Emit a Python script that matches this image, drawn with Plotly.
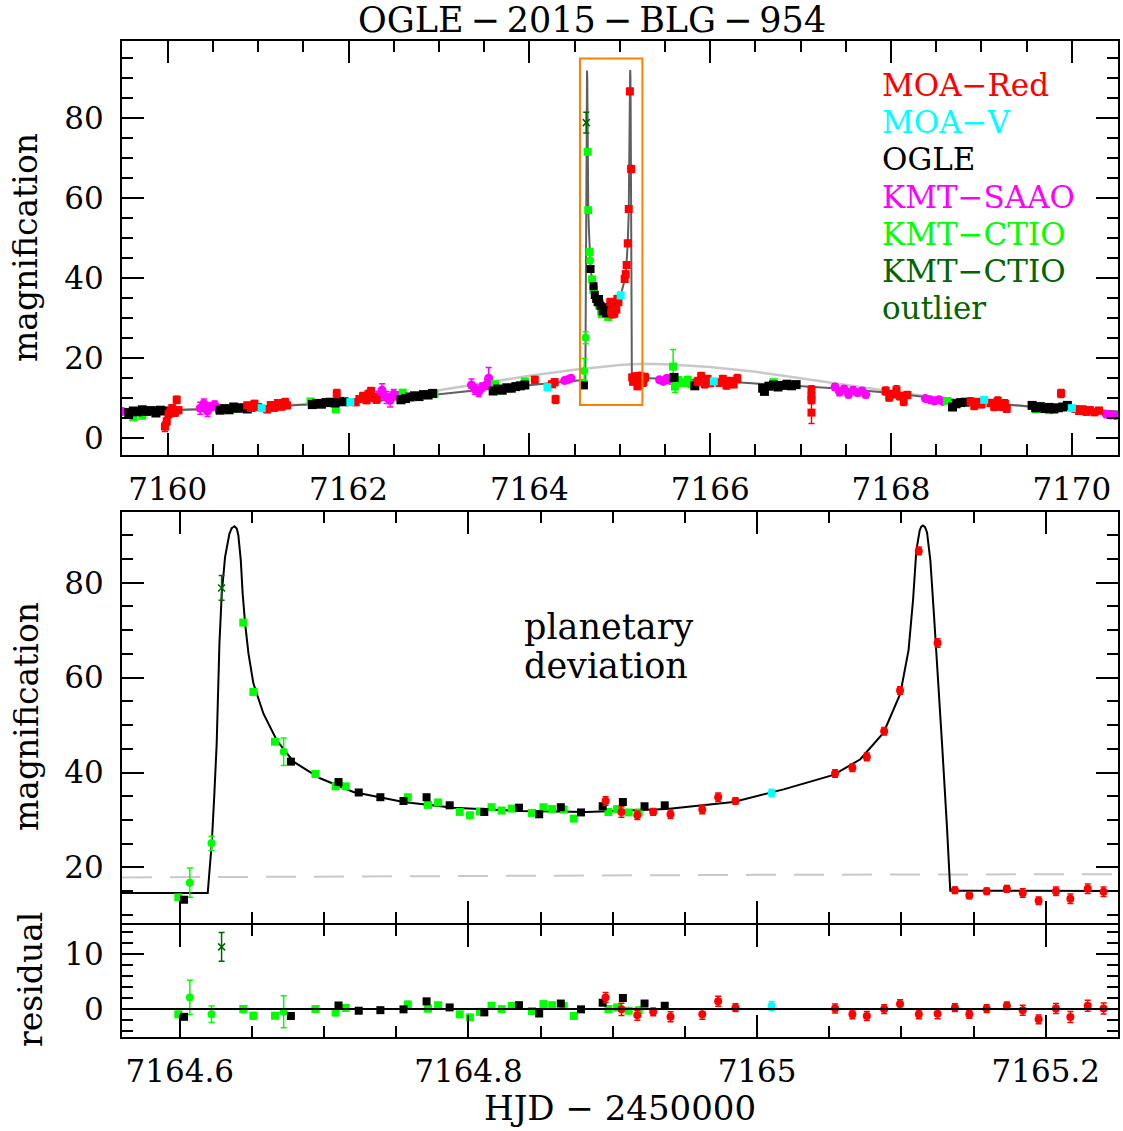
import plotly.graph_objects as go

FONT = "DejaVu Serif"
W, H = 1123, 1131

# ---------------- axis ranges ----------------
top_x_range = [7159.495, 7170.51]
top_y_range = [-4.2, 99.3]
zoom_x_range = [7164.56, 7165.25]
zoom_y_range = [8.3, 94.9]
res_y_range = [-5.05, 15.2]

# ---------------- colours ----------------
C_MOA_RED = "#FF0000"
C_MOA_V = "#00FFFF"
C_OGLE = "#000000"
C_SAAO = "#FF00FF"
C_CTIO = "#00FF00"
C_OUT = "#006400"

# ---------------- zoom-window data (bottom panels) ----------------
ctio_sq_t = [7164.599, 7164.644, 7164.651, 7164.666, 7164.694, 7164.708, 7164.715, 7164.758,
             7164.772, 7164.779, 7164.794, 7164.801, 7164.808, 7164.816, 7164.823, 7164.830,
             7164.844, 7164.852, 7164.858, 7164.866, 7164.873, 7164.897, 7164.903, 7164.911,
             7164.918]
ctio_sq_A = [13.7, 71.6, 57.0, 46.5, 39.7, 37.1, 37.1, 34.8,
             33.2, 33.7, 31.7, 31.0, 31.8, 32.7, 32.0, 32.4,
             31.5, 32.7, 32.3, 32.2, 30.3, 31.7, 32.3, 31.6,
             31.6]
ctio_sq_err = [0.5, 0.6, 0.6, 0.5, 0.4, 0.6, 0.4, 0.6,
               0.6, 0.4, 0.4, 0.5, 0.5, 0.4, 0.4, 0.4,
               0.5, 0.5, 0.5, 0.4, 0.6, 0.5, 0.4, 0.4,
               0.4]
ctio_sq_res = [-0.95, 0.0, -1.2, -1.2, 0.0, -0.6, 0.2, 0.8,
               0.1, 0.7, -0.95, -1.5, -0.5, 0.6, 0.0, 0.55,
               -0.35, 0.9, 0.7, 0.55, -1.25, 0.0, 0.3, -0.3,
               -0.2]

ctio_ci_t = [7164.607, 7164.622, 7164.672]
ctio_ci_A = [16.8, 25.1, 44.4]
ctio_ci_err = [3.1, 1.5, 2.9]
ctio_ci_res = [2.1, -0.95, -0.5]

outlier_t = [7164.629]
outlier_A = [78.9]
outlier_err = [2.6]
outlier_res = [11.25]

ogle_z_t = [7164.603, 7164.677, 7164.710, 7164.724, 7164.739, 7164.755, 7164.771, 7164.787,
            7164.811, 7164.835, 7164.849, 7164.864, 7164.878, 7164.893, 7164.907, 7164.922,
            7164.936]
ogle_z_A = [13.2, 42.3, 38.0, 35.8, 34.8, 34.0, 34.8, 33.1,
            31.7, 32.6, 31.2, 32.7, 31.6, 32.9, 33.8, 32.9,
            33.1]
ogle_z_err = [0.3, 0.5, 0.5, 0.4, 0.4, 0.4, 0.4, 0.4,
              0.4, 0.4, 0.4, 0.4, 0.4, 0.4, 0.4, 0.4,
              0.4]
ogle_z_res = [-1.4, -1.25, 0.65, -0.3, -0.2, -0.05, 1.4, 0.3,
              -0.6, 0.7, -0.8, 1.0, -0.05, 1.15, 2.0, 1.0,
              0.6]

moa_z_t = [7164.895, 7164.906, 7164.917, 7164.928, 7164.940, 7164.962, 7164.973, 7164.985,
           7165.054, 7165.066, 7165.076, 7165.088, 7165.099, 7165.112, 7165.125, 7165.137,
           7165.147, 7165.159, 7165.173, 7165.184, 7165.195, 7165.207, 7165.217, 7165.229,
           7165.240]
moa_z_A = [34.0, 31.7, 31.0, 31.7, 31.2, 32.2, 34.8, 34.0,
           39.8, 41.0, 43.3, 48.7, 57.3, 86.7, 67.3, 15.2,
           14.1, 15.0, 15.5, 14.6, 13.0, 15.0, 13.4, 15.5,
           14.9]
moa_z_err = [0.9, 1.1, 0.9, 0.7, 0.9, 0.9, 0.9, 0.7,
             0.8, 0.8, 0.8, 0.8, 0.8, 0.8, 0.9, 0.7,
             0.7, 0.7, 0.7, 0.9, 0.8, 0.9, 1.0, 1.0,
             1.0]
moa_z_res = [2.1, -0.05, -1.1, -0.5, -1.4, -0.95, 1.4, 0.25,
             0.1, -0.95, -1.25, 0.0, 0.9, -0.95, -0.85, 0.25,
             -0.95, 0.1, 0.6, -0.2, -1.85, 0.1, -1.45, 0.6,
             0.1]

moav_z_t = [7165.010]
moav_z_A = [35.7]
moav_z_err = [0.8]
moav_z_res = [0.55]

# ---------------- wide data (top panel only) ----------------
moa_w_t = [7159.97, 7159.99, 7160.01, 7160.03, 7160.05, 7160.08, 7160.10, 7160.12,
           7160.88, 7160.92, 7160.96, 7161.00,
           7161.10, 7161.14, 7161.18, 7161.22, 7161.26, 7161.30, 7161.32,
           7161.87,
           7162.08, 7162.12, 7162.16, 7162.20, 7162.22, 7162.25, 7162.28, 7162.31,
           7164.06, 7164.25, 7164.28, 7164.29,
           7165.26, 7165.28,
           7165.86, 7165.90, 7165.94, 7165.97, 7166.00,
           7166.10, 7166.14, 7166.18, 7166.22, 7166.26, 7166.30,
           7167.12, 7167.12, 7167.12, 7167.12,
           7167.94, 7167.98, 7168.02, 7168.06, 7168.10, 7168.14, 7168.18,
           7168.88, 7168.92, 7168.96, 7169.00,
           7169.10, 7169.14, 7169.18, 7169.22, 7169.26, 7169.28,
           7169.88,
           7170.04, 7170.08, 7170.12, 7170.16, 7170.20, 7170.25, 7170.30]
moa_w_A = [2.9, 4.2, 6.0, 6.7, 7.5, 6.4, 9.6, 7.0,
           8.2, 7.6, 8.6, 7.8,
           7.2, 8.3, 7.6, 8.8, 7.9, 9.0, 8.2,
           11.2,
           9.0, 9.8, 10.5, 9.5, 11.0, 11.8, 10.2, 9.6,
           14.6, 13.5, 14.0, 9.7,
           14.0, 15.2,
           14.2, 15.5, 13.5, 14.8, 13.8,
           13.9, 14.8, 13.2, 14.3, 13.5, 14.9,
           12.1, 10.4, 9.6, 6.4,
           11.8, 10.2, 11.0, 12.0, 10.5, 9.2, 10.8,
           9.2, 8.1, 9.0, 8.5,
           8.8, 7.9, 9.3, 8.0, 8.6, 7.4,
           11.2,
           7.3, 6.8, 7.2, 6.6, 7.0, 6.5, 6.9]
moa_w_err = [1.2, 1.0, 0.9, 0.8, 0.8, 0.9, 0.9, 0.8,
             0.8, 0.8, 0.8, 0.8,
             0.8, 0.8, 0.8, 0.8, 0.8, 0.9, 0.8,
             1.0,
             0.8, 0.8, 0.9, 0.8, 1.0, 0.9, 0.8, 0.8,
             0.8, 0.8, 0.8, 1.0,
             1.0, 1.0,
             1.0, 0.9, 0.9, 0.9, 0.9,
             0.9, 0.9, 0.9, 0.9, 0.9, 1.0,
             1.0, 1.0, 1.0, 2.7,
             1.0, 0.9, 0.9, 1.1, 0.9, 1.0, 0.9,
             0.9, 0.9, 0.9, 0.9,
             0.9, 1.0, 1.0, 1.0, 1.0, 0.9,
             1.0,
             0.8, 0.8, 0.8, 0.8, 0.8, 0.8, 0.8]

moav_w_t = [7161.04, 7162.02, 7164.20, 7166.04, 7169.03, 7170.00]
moav_w_A = [7.5, 9.0, 12.7, 14.2, 9.6, 7.5]
moav_w_err = [0.7, 0.7, 0.8, 0.7, 0.7, 0.7]

ogle_w_t = [7159.57, 7159.62, 7159.67, 7159.72, 7159.77, 7159.82, 7159.87, 7159.92, 7159.96,
            7160.58, 7160.63, 7160.68, 7160.73, 7160.78, 7160.83, 7160.88, 7160.93,
            7161.60, 7161.65, 7161.70, 7161.75, 7161.80, 7161.85, 7161.90, 7161.95,
            7162.58, 7162.63, 7162.68, 7162.73, 7162.78, 7162.83, 7162.88, 7162.93,
            7163.60, 7163.65, 7163.70, 7163.75, 7163.80, 7163.85, 7163.90, 7163.95,
            7165.60, 7165.83,
            7166.58, 7166.60, 7166.65, 7166.70, 7166.75, 7166.80, 7166.85, 7166.90, 7166.95,
            7168.68, 7168.72, 7168.77, 7168.82,
            7169.56, 7169.60, 7169.65, 7169.70, 7169.75, 7169.80, 7169.85, 7169.90, 7169.95]
ogle_w_A = [6.4, 6.8, 6.6, 7.1, 6.7, 6.9, 6.3, 7.0, 6.8,
            7.0, 7.4, 7.1, 7.8, 7.5, 7.6, 7.3, 7.8,
            8.4, 8.7, 8.5, 8.9, 9.0, 8.8, 9.2, 9.1,
            9.6, 9.9, 10.3, 10.6, 10.4, 10.9, 10.8, 11.2,
            11.8, 12.3, 12.0, 12.6, 12.5, 12.9, 13.1, 13.3,
            15.2, 13.1,
            12.5, 11.7, 13.0, 13.3, 12.8, 13.2, 13.5, 13.1, 13.4,
            7.8, 8.6, 8.9, 9.0,
            8.2, 7.6, 7.9, 7.4, 7.7, 7.3, 7.6, 7.8, 8.2]

saao_w_t = [7159.50,
            7160.36, 7160.40, 7160.44, 7160.48, 7160.52, 7160.56,
            7162.33, 7162.37, 7162.42, 7162.46, 7162.50, 7162.55,
            7163.36, 7163.40, 7163.44, 7163.48, 7163.53, 7163.55,
            7164.39, 7164.43, 7164.46,
            7165.44, 7165.48, 7165.52, 7165.56,
            7167.38, 7167.43, 7167.48, 7167.53, 7167.58, 7167.63, 7167.68, 7167.72,
            7168.38, 7168.43, 7168.48, 7168.53, 7168.57,
            7170.38, 7170.43, 7170.48]
saao_w_A = [6.7,
            7.5, 8.6, 6.8, 7.9, 8.3, 7.4,
            10.5, 12.0, 10.2, 9.5, 11.0, 10.6,
            13.3, 12.2, 11.6, 12.8, 13.5, 15.0,
            14.4, 14.7, 15.0,
            14.6, 14.2, 15.0, 14.4,
            12.8, 11.6, 12.3, 11.0, 12.0, 11.4, 11.8, 10.9,
            9.9, 9.6, 9.3, 9.6, 9.2,
            6.0, 5.8, 5.7]
saao_w_err = [0.4,
              1.5, 1.2, 1.4, 1.0, 1.0, 0.9,
              1.2, 1.6, 1.5, 1.7, 1.2, 1.0,
              1.5, 1.2, 1.2, 1.0, 1.2, 2.7,
              0.5, 0.5, 0.5,
              0.6, 0.6, 0.6, 0.6,
              0.8, 1.0, 0.8, 0.9, 0.8, 0.8, 0.8, 0.8,
              0.5, 0.5, 0.5, 0.5, 0.5,
              0.5, 0.5, 0.5]

ctio_w_t = [7159.62, 7159.72, 7160.74, 7161.58, 7161.86, 7162.60, 7162.95, 7163.62, 7163.95,
            7165.59, 7165.61, 7165.65, 7165.70, 7165.75, 7165.79,
            7166.70, 7166.85, 7168.62, 7169.60, 7169.75]
ctio_w_A = [5.2, 5.6, 7.3, 9.2, 7.2, 11.4, 11.0, 13.5, 14.2,
            17.9, 12.9, 14.5, 13.8, 14.6, 13.5,
            14.0, 13.2, 9.3, 7.2, 7.0]
ctio_w_err = [0.4, 0.4, 0.4, 0.4, 0.4, 0.4, 0.4, 0.4, 0.4,
              4.3, 1.5, 0.8, 0.8, 0.8, 0.8,
              0.4, 0.4, 0.4, 0.4, 0.4]

# ---------------- models ----------------
model_z_t = [7164.556, 7164.6194, 7164.6203, 7164.6222, 7164.6240, 7164.6256, 7164.6275, 7164.6291,
             7164.6314, 7164.6330, 7164.6344, 7164.6360, 7164.6379, 7164.6395, 7164.6406, 7164.6423,
             7164.6436, 7164.6453, 7164.6476,
             7164.6510, 7164.6580, 7164.6672, 7164.6788, 7164.6972, 7164.7203, 7164.7550, 7164.7896,
             7164.8358, 7164.8820, 7164.9375, 7164.9837, 7165.0183, 7165.0530, 7165.0715, 7165.0876,
             7165.0992, 7165.1049, 7165.1080, 7165.1103, 7165.1126, 7165.1137, 7165.1149, 7165.1163,
             7165.1177, 7165.1200,
             7165.1223, 7165.1246, 7165.1281, 7165.1315, 7165.1338, 7165.25]
model_z_A = [14.6, 14.6, 18.1, 25.1, 35.6, 46.1, 67.2, 77.7,
             85.4, 88.5, 90.3, 91.5, 91.9, 91.4, 90.0, 84.7,
             77.7, 71.4, 65.1,
             58.8, 52.4, 46.8, 42.3, 38.8, 35.9, 33.8, 32.6,
             31.9, 31.7, 32.3, 33.8, 36.45, 39.5, 42.8, 48.4,
             56.6, 65.8, 76.3, 86.8, 91.0, 91.8, 92.05, 91.7,
             90.6, 84.7,
             74.2, 63.7, 46.1, 28.6, 15.1, 15.05]

model_left_t = [7159.495, 7160.0, 7160.5, 7161.0, 7161.5, 7162.0, 7162.5, 7163.0, 7163.5, 7164.0, 7164.5]
model_left_A = [6.7, 7.0, 7.3, 7.8, 8.3, 8.9, 9.6, 11.0, 12.2, 13.3, 14.4]
model_right_t = [7165.5, 7166.0, 7166.5, 7167.0, 7167.5, 7168.0, 7168.5, 7169.0, 7169.5, 7170.0, 7170.51]
model_right_A = [14.8, 14.4, 13.7, 13.0, 12.3, 11.3, 10.0, 8.9, 8.0, 7.3, 6.7]

pspl_t = [7159.495, 7160.0, 7160.5, 7161.0, 7161.5, 7162.0, 7162.5, 7163.0, 7163.5, 7164.0,
          7164.5, 7164.8, 7165.0, 7165.25, 7165.5, 7166.0, 7166.5, 7167.0, 7167.5, 7168.0,
          7168.5, 7169.0, 7169.5, 7170.0, 7170.51]
pspl_A = [6.7, 7.0, 7.4, 7.9, 8.4, 9.1, 10.2, 12.0, 13.8, 15.6,
          17.1, 17.9, 18.3, 18.6, 18.5, 17.8, 16.6, 15.0, 13.3, 11.7,
          10.2, 8.9, 8.0, 7.3, 6.7]

pspl_z_t = [7164.56, 7164.8, 7165.0, 7165.25]
pspl_z_A = [17.9, 18.2, 18.45, 18.6]

legend_labels = ["MOA\u2212Red", "MOA\u2212V", "OGLE", "KMT\u2212SAAO", "KMT\u2212CTIO", "KMT\u2212CTIO", "outlier"]
legend_colors = [C_MOA_RED, C_MOA_V, C_OGLE, C_SAAO, C_CTIO, C_OUT, C_OUT]

# ---------------- figure ----------------
fig = go.Figure()


def pts(t, a, err, color, symbol, xa, ya, size=8):
    kw = dict(x=t, y=a, mode="markers", xaxis=xa, yaxis=ya, showlegend=False, hoverinfo="skip",
              marker=dict(color=color, symbol=symbol, size=size,
                          line=dict(width=1.5 if symbol.startswith("x") else 0, color=color)))
    if err is not None:
        kw["error_y"] = dict(type="data", array=err, visible=True, thickness=1.5, width=3, color=color)
    fig.add_trace(go.Scatter(**kw))


def line(t, a, color, width, xa, ya, dash="solid"):
    fig.add_trace(go.Scatter(x=t, y=a, mode="lines", xaxis=xa, yaxis=ya, showlegend=False,
                             hoverinfo="skip", line=dict(color=color, width=width, dash=dash)))


# top panel models
line(pspl_t, pspl_A, "#c8c8c8", 2.5, "x", "y")
line(model_left_t + model_z_t + model_right_t, model_left_A + model_z_A + model_right_A,
     "#5f5f5f", 2, "x", "y")

# top panel data
pts(saao_w_t, saao_w_A, saao_w_err, C_SAAO, "circle", "x", "y", 9)
pts(ctio_w_t, ctio_w_A, ctio_w_err, C_CTIO, "square", "x", "y", 8)
pts(ctio_sq_t, ctio_sq_A, ctio_sq_err, C_CTIO, "square", "x", "y", 8)
pts(ctio_ci_t, ctio_ci_A, ctio_ci_err, C_CTIO, "circle", "x", "y", 8)
pts(ogle_w_t, ogle_w_A, None, C_OGLE, "square", "x", "y", 9)
pts(ogle_z_t, ogle_z_A, ogle_z_err, C_OGLE, "square", "x", "y", 8)
pts(moa_w_t, moa_w_A, moa_w_err, C_MOA_RED, "square", "x", "y", 8)
pts(moa_z_t, moa_z_A, moa_z_err, C_MOA_RED, "square", "x", "y", 8)
pts(moav_w_t, moav_w_A, moav_w_err, C_MOA_V, "square", "x", "y", 8)
pts(moav_z_t, moav_z_A, moav_z_err, C_MOA_V, "square", "x", "y", 8)
pts(outlier_t, outlier_A, outlier_err, C_OUT, "x-thin", "x", "y", 7)

# bottom (zoom) panel
line(pspl_z_t, pspl_z_A, "#c8c8c8", 2, "x2", "y2", dash="30px,18px")
line(model_z_t, model_z_A, "black", 2, "x2", "y2")
pts(ctio_sq_t, ctio_sq_A, ctio_sq_err, C_CTIO, "square", "x2", "y2", 8)
pts(ctio_ci_t, ctio_ci_A, ctio_ci_err, C_CTIO, "circle", "x2", "y2", 8)
pts(ogle_z_t, ogle_z_A, ogle_z_err, C_OGLE, "square", "x2", "y2", 8)
pts(moa_z_t, moa_z_A, moa_z_err, C_MOA_RED, "circle", "x2", "y2", 8)
pts(moav_z_t, moav_z_A, moav_z_err, C_MOA_V, "circle", "x2", "y2", 8)
pts(outlier_t, outlier_A, outlier_err, C_OUT, "x-thin", "x2", "y2", 7)

# residual panel
pts(ctio_sq_t, ctio_sq_res, ctio_sq_err, C_CTIO, "square", "x3", "y3", 8)
pts(ctio_ci_t, ctio_ci_res, ctio_ci_err, C_CTIO, "circle", "x3", "y3", 8)
pts(ogle_z_t, ogle_z_res, ogle_z_err, C_OGLE, "square", "x3", "y3", 8)
pts(moa_z_t, moa_z_res, moa_z_err, C_MOA_RED, "circle", "x3", "y3", 8)
pts(moav_z_t, moav_z_res, moav_z_err, C_MOA_V, "circle", "x3", "y3", 8)
pts(outlier_t, outlier_res, outlier_err, C_OUT, "x-thin", "x3", "y3", 7)


def fx(px):
    return px / W


def fy(py):
    return 1 - py / H


TICKFONT = dict(family=FONT, size=31, color="black")


def axis(**kw):
    base = dict(showline=True, linecolor="black", linewidth=2, mirror="allticks",
                ticks="inside", ticklen=22, tickwidth=1.5, tickcolor="black",
                showgrid=False, zeroline=False, tickfont=TICKFONT, ticklabelstandoff=10,
                minor=dict(ticks="inside", ticklen=11, tickwidth=1.5, tickcolor="black", showgrid=False))
    minor = kw.pop("minor_dtick", None)
    if minor is not None:
        base["minor"]["dtick"] = minor
    base.update(kw)
    return base


xdom = [fx(122), fx(1118)]
fig.update_layout(
    width=W, height=H, margin=dict(l=0, r=0, t=0, b=0),
    plot_bgcolor="white", paper_bgcolor="white", showlegend=False,
    xaxis=axis(domain=xdom, anchor="y", range=top_x_range, tick0=7160, dtick=2, minor_dtick=0.5,
               ticklabelstandoff=6),
    yaxis=axis(domain=[fy(455), fy(41)], anchor="x", range=top_y_range,
               tick0=0, dtick=20, minor_dtick=5),
    xaxis2=axis(domain=xdom, anchor="y2", range=zoom_x_range, tick0=7164.6, dtick=0.2,
                minor_dtick=0.05, showticklabels=False),
    yaxis2=axis(domain=[fy(923), fy(512)], anchor="x2", range=zoom_y_range,
                tick0=0, dtick=20, minor_dtick=5),
    xaxis3=axis(domain=xdom, anchor="y3", range=zoom_x_range, tick0=7164.6, dtick=0.2,
                minor_dtick=0.05, matches="x2", tickformat=".1~f", ticklabelstandoff=6),
    yaxis3=axis(domain=[fy(1037), fy(925)], anchor="x3", range=res_y_range,
                tick0=0, dtick=10, minor_dtick=2),
)

# zoom box and zero line
fig.add_shape(type="rect", xref="x", yref="y", x0=zoom_x_range[0], x1=zoom_x_range[1],
              y0=zoom_y_range[0], y1=zoom_y_range[1], line=dict(color="#FF8000", width=2))
fig.add_shape(type="line", xref="x3 domain", yref="y3", x0=0, x1=1, y0=0, y1=0,
              line=dict(color="black", width=2))

ann = []


def text(s, x, y, size=31, color="black", xanchor="center", angle=0):
    ann.append(dict(text=s, x=fx(x), y=fy(y), xref="paper", yref="paper", showarrow=False,
                    xanchor=xanchor, yanchor="middle", textangle=angle,
                    font=dict(family=FONT, size=size, color=color)))


TS = "\u2009"
text("OGLE" + TS + "\u2212" + TS + "2015" + TS + "\u2212" + TS + "BLG" + TS + "\u2212" + TS + "954",
     592, 20, size=35)
text("magnification", 26, 248, size=33, angle=-90)
text("magnification", 26, 717, size=33, angle=-90)
text("residual", 30, 980, size=33, angle=-90)
text("HJD \u2212 2450000", 620, 1108, size=34)
text("planetary", 522, 627, size=35, xanchor="left")
text("deviation", 522, 666, size=35, xanchor="left")
for i, (lab, col) in enumerate(zip(legend_labels, legend_colors)):
    text(lab, 880, 85 + i * 37.2, color=col, xanchor="left")
fig.update_layout(annotations=ann)

fig.write_html("out.html", config={"displayModeBar": False},
               post_script="document.body.style.margin='0';document.body.style.overflow='hidden';")
